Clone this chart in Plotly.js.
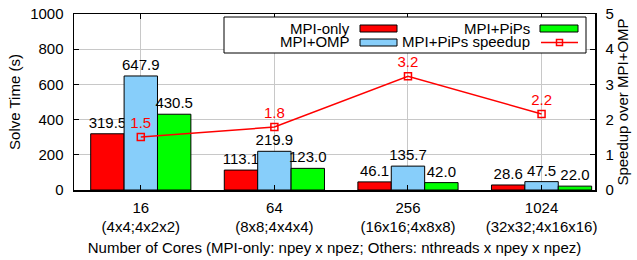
<!DOCTYPE html>
<html>
<head>
<meta charset="utf-8">
<script src="https://cdn.plot.ly/plotly-3.0.1.min.js"></script>
<style>
html,body{margin:0;padding:0;background:#fff;}
#chart{width:637px;height:260px;}
</style>
</head>
<body>
<div id="chart"></div>
<script>
// ---- data ----
const categories = ["16<br>(4x4;4x2x2)", "64<br>(8x8;4x4x4)", "256<br>(16x16;4x8x8)", "1024<br>(32x32;4x16x16)"];
const mpiOnly = [319.5, 113.1, 46.1, 28.6];
const mpiOmp = [647.9, 219.9, 135.7, 47.5];
const mpiPips = [430.5, 123.0, 42.0, 22.0];
const speedup = [1.505, 1.788, 3.231, 2.159];
const speedupLabels = ["1.5", "1.8", "3.2", "2.2"];
const legendNames = ["MPI-only", "MPI+OMP", "MPI+PiPs", "MPI+PiPs speedup"];

const FONT = "Liberation Sans, Arial, sans-serif";
const FS = 15;
const xIdx = categories.map((c, i) => i);

function barTrace(name, y, color) {
  return {
    type: "bar", name: name, x: xIdx, y: y,
    marker: {color: color, line: {color: "#000", width: 1}},
    text: y.map(v => v.toFixed(1)), textposition: "outside",
    textfont: {family: FONT, size: FS, color: "#000"},
    constraintext: "none", cliponaxis: false, showlegend: false
  };
}

const traces = [
  barTrace(legendNames[0], mpiOnly, "#ff0000"),
  barTrace(legendNames[1], mpiOmp, "#87cefa"),
  barTrace(legendNames[2], mpiPips, "#00ff00"),
  {
    type: "scatter", mode: "lines+markers+text", name: legendNames[3],
    x: xIdx, y: speedup, yaxis: "y2",
    line: {color: "#ff0000", width: 1.5},
    marker: {symbol: "square-open", size: 7, color: "#ff0000", line: {width: 1.5}},
    text: speedupLabels, textposition: "top center",
    textfont: {family: FONT, size: FS, color: "#ff0000"},
    cliponaxis: false, showlegend: false
  }
];

// legend drawn in pixel terms -> paper coords
const M = {l: 74, r: 42, t: 14, b: 70};
const PW = 637 - M.l - M.r, PH = 260 - M.t - M.b;
const px = x => (x - M.l) / PW;
const py = y => (M.t + PH - y) / PH;

const shapes = [
  {type: "rect", xref: "paper", yref: "paper", x0: px(224), x1: px(586), y0: py(17), y1: py(53), line: {color: "#000", width: 1}, fillcolor: "#fff", layer: "above"},
  {type: "rect", xref: "paper", yref: "paper", x0: px(360), x1: px(397), y0: py(25), y1: py(32), line: {color: "#000", width: 1}, fillcolor: "#ff0000", layer: "above"},
  {type: "rect", xref: "paper", yref: "paper", x0: px(360), x1: px(397), y0: py(39), y1: py(46), line: {color: "#000", width: 1}, fillcolor: "#87cefa", layer: "above"},
  {type: "rect", xref: "paper", yref: "paper", x0: px(540), x1: px(578), y0: py(25), y1: py(32), line: {color: "#000", width: 1}, fillcolor: "#00ff00", layer: "above"},
  {type: "line", xref: "paper", yref: "paper", x0: px(541), x1: px(578), y0: py(42.5), y1: py(42.5), line: {color: "#ff0000", width: 1.5}, layer: "above"},
  {type: "rect", xref: "paper", yref: "paper", x0: px(556.5), x1: px(562.5), y0: py(39.5), y1: py(45.5), line: {color: "#ff0000", width: 1.5}, fillcolor: "rgba(0,0,0,0)", layer: "above"}
];

function legText(t, xr, yc) {
  return {xref: "paper", yref: "paper", x: px(xr), y: py(yc), text: t, showarrow: false,
    xanchor: "right", yanchor: "middle", borderpad: 0,
    font: {family: FONT, size: FS, color: "#000"}};
}
const annotations = [
  legText(legendNames[0], 351, 28),
  legText(legendNames[1], 351, 42),
  legText(legendNames[2], 531, 28),
  legText(legendNames[3], 531, 42)
];

const layout = {
  width: 637, height: 260,
  margin: M,
  paper_bgcolor: "#fff", plot_bgcolor: "#fff",
  font: {family: FONT, size: FS, color: "#000"},
  barmode: "group", bargap: 0.25, bargroupgap: 0,
  showlegend: false,
  xaxis: {
    range: [-0.5, 3.4], tickvals: xIdx, ticktext: categories,
    showgrid: true, gridcolor: "#c8c8c8", gridwidth: 1,
    showline: true, linecolor: "#000", linewidth: 1.5, mirror: "ticks",
    ticks: "inside", ticklen: 5, tickcolor: "#000",
    ticklabelstandoff: 3,
    tickfont: {family: FONT, size: FS},
    title: {text: "Number of Cores (MPI-only: npey x npez; Others: nthreads x npey x npez)", font: {family: FONT, size: FS}, standoff: 8},
    zeroline: false, fixedrange: true
  },
  yaxis: {
    range: [0, 1000], dtick: 200,
    showgrid: true, gridcolor: "#c8c8c8", gridwidth: 1,
    showline: true, linecolor: "#000", linewidth: 1.5,
    ticks: "inside", ticklen: 5, tickcolor: "#000",
    ticklabelstandoff: 6,
    tickfont: {family: FONT, size: FS},
    title: {text: "Solve Time (s)", font: {family: FONT, size: FS}, standoff: 6},
    zeroline: false
  },
  yaxis2: {
    overlaying: "y", side: "right",
    range: [0, 5], dtick: 1,
    showgrid: false,
    showline: true, linecolor: "#000", linewidth: 1.5,
    ticks: "inside", ticklen: 5, tickcolor: "#000",
    ticklabelstandoff: 6,
    tickfont: {family: FONT, size: FS},
    title: {text: "Speedup over MPI+OMP", font: {family: FONT, size: FS}, standoff: 4},
    zeroline: false
  },
  shapes: shapes,
  annotations: annotations
};

Plotly.newPlot("chart", traces, layout, {staticPlot: true, displayModeBar: false});
</script>
</body>
</html>
